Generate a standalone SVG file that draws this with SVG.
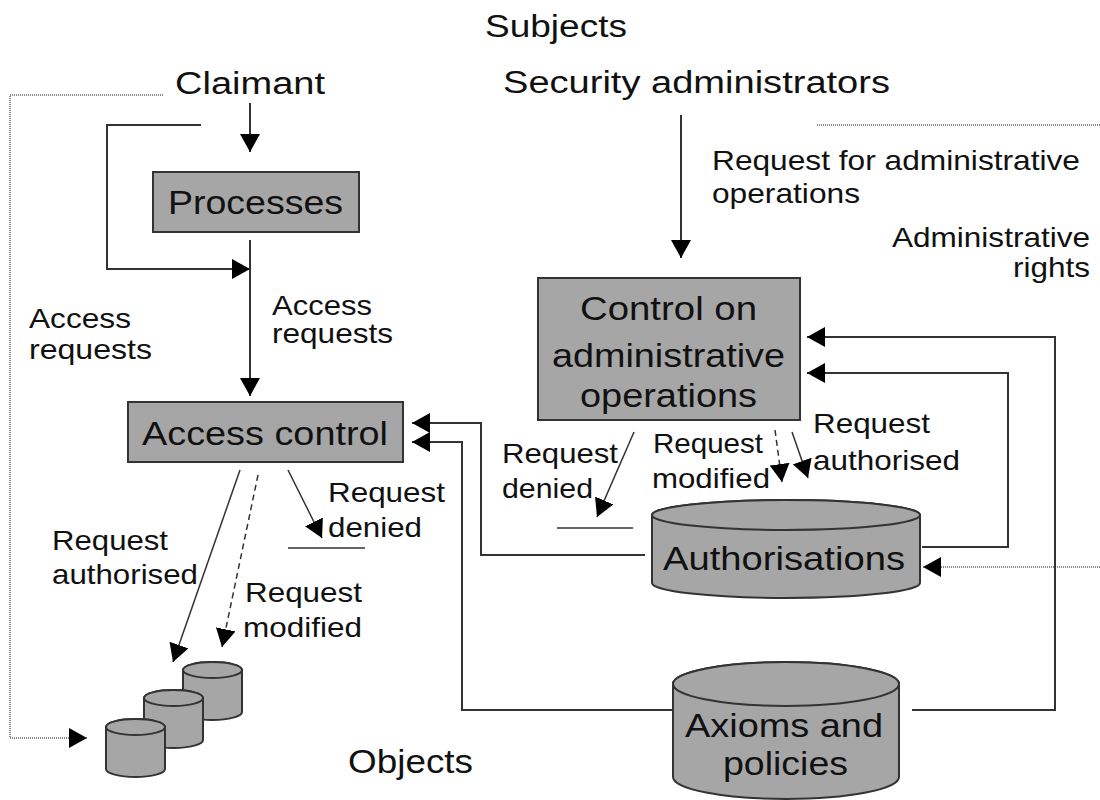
<svg xmlns="http://www.w3.org/2000/svg" width="1100" height="800" viewBox="0 0 1100 800">
  <style>
    text { font-family: "Liberation Sans", Arial, sans-serif; fill: #111; }
    .big { font-size: 34px; }
    .mid { font-size: 31px; }
    .lbl { font-size: 28px; }
    .box { fill: #a6a6a6; stroke: #333; stroke-width: 2; }
    .line { fill: none; stroke: #333; stroke-width: 2; }
    .thin { fill: none; stroke: #333; stroke-width: 1.5; }
    .dash { fill: none; stroke: #333; stroke-width: 1.5; stroke-dasharray: 6 4; }
    .dot { fill: none; stroke: #888; stroke-width: 2; stroke-dasharray: 1 1; }
  </style>
  <defs>
    <marker id="arrow" viewBox="0 0 18 20" refX="18" refY="10" markerWidth="18" markerHeight="20" markerUnits="userSpaceOnUse" orient="auto">
      <path d="M0,0 L18,10 L0,20 z" fill="#000"/>
    </marker>
  </defs>
  <rect width="1100" height="800" fill="#fff"/>

  <!-- headings -->
  <g id="subjects">
    <text class="mid" x="485" y="37" textLength="142" lengthAdjust="spacingAndGlyphs">Subjects</text>
  </g>
  <g id="claimant">
    <text class="mid" x="175" y="94" textLength="150" lengthAdjust="spacingAndGlyphs">Claimant</text>
  </g>
  <g id="security-administrators">
    <text class="mid" x="503" y="93" textLength="387" lengthAdjust="spacingAndGlyphs">Security administrators</text>
  </g>
  <g id="objects-label">
    <text class="big" x="348" y="773" textLength="125" lengthAdjust="spacingAndGlyphs">Objects</text>
  </g>

  <!-- connectors -->
  <g id="connectors">
    <!-- claimant to processes -->
    <line class="line" x1="250" y1="103" x2="250" y2="152" marker-end="url(#arrow)"/>
    <polyline class="line" points="201,125 107,125 107,269 250,269" marker-end="url(#arrow)"/>
    <line class="line" x1="250" y1="240" x2="250" y2="396" marker-end="url(#arrow)"/>
    <!-- claimant to objects (dotted) -->
    <polyline class="dot" points="163,95 10,95 10,738 87,738" marker-end="url(#arrow)"/>
    <!-- security administrators -->
    <line class="line" x1="681" y1="115" x2="681" y2="258" marker-end="url(#arrow)"/>
    <line class="dot" x1="817" y1="125" x2="1100" y2="125"/>
    <!-- administrative rights into authorisations -->
    <line class="dot" x1="1100" y1="567" x2="923" y2="567" marker-end="url(#arrow)"/>
    <!-- feedback into control on administrative operations -->
    <polyline class="line" points="912,710 1055,710 1055,337 807,337" marker-end="url(#arrow)"/>
    <polyline class="line" points="922,547 1008,547 1008,373 807,373" marker-end="url(#arrow)"/>
    <!-- feedback into access control -->
    <polyline class="line" points="645,555 481,555 481,423 412,423" marker-end="url(#arrow)"/>
    <polyline class="line" points="673,710 462,710 462,442 412,442" marker-end="url(#arrow)"/>
    <!-- access control outcomes -->
    <line class="thin" x1="240" y1="470" x2="173" y2="662" marker-end="url(#arrow)"/>
    <line class="dash" x1="258" y1="475" x2="222" y2="647" marker-end="url(#arrow)"/>
    <line class="thin" x1="288" y1="470" x2="322" y2="538" marker-end="url(#arrow)"/>
    <line class="thin" x1="288" y1="548" x2="365" y2="548"/>
    <!-- administrative control outcomes -->
    <line class="thin" x1="634" y1="432" x2="597" y2="517" marker-end="url(#arrow)"/>
    <line class="thin" x1="557" y1="528" x2="633" y2="528"/>
    <line class="dash" x1="775" y1="430" x2="782" y2="482" marker-end="url(#arrow)"/>
    <line class="thin" x1="792" y1="432" x2="808" y2="478" marker-end="url(#arrow)"/>
  </g>

  <!-- connector labels -->
  <g id="labels">
    <text class="lbl" x="712" y="170" textLength="368" lengthAdjust="spacingAndGlyphs">Request for administrative</text>
    <text class="lbl" x="712" y="203" textLength="148" lengthAdjust="spacingAndGlyphs">operations</text>
    <text class="lbl" x="892" y="247" textLength="198" lengthAdjust="spacingAndGlyphs">Administrative</text>
    <text class="lbl" x="1013" y="277" textLength="77" lengthAdjust="spacingAndGlyphs">rights</text>
    <text class="lbl" x="272" y="315" textLength="100" lengthAdjust="spacingAndGlyphs">Access</text>
    <text class="lbl" x="272" y="343" textLength="121" lengthAdjust="spacingAndGlyphs">requests</text>
    <text class="lbl" x="29" y="328" textLength="102" lengthAdjust="spacingAndGlyphs">Access</text>
    <text class="lbl" x="29" y="359" textLength="123" lengthAdjust="spacingAndGlyphs">requests</text>
    <text class="lbl" x="52" y="550" textLength="116" lengthAdjust="spacingAndGlyphs">Request</text>
    <text class="lbl" x="52" y="584" textLength="146" lengthAdjust="spacingAndGlyphs">authorised</text>
    <text class="lbl" x="245" y="602" textLength="117" lengthAdjust="spacingAndGlyphs">Request</text>
    <text class="lbl" x="243" y="637" textLength="119" lengthAdjust="spacingAndGlyphs">modified</text>
    <text class="lbl" x="328" y="502" textLength="117" lengthAdjust="spacingAndGlyphs">Request</text>
    <text class="lbl" x="328" y="537" textLength="94" lengthAdjust="spacingAndGlyphs">denied</text>
    <text class="lbl" x="502" y="463" textLength="116" lengthAdjust="spacingAndGlyphs">Request</text>
    <text class="lbl" x="502" y="498" textLength="91" lengthAdjust="spacingAndGlyphs">denied</text>
    <text class="lbl" x="653" y="453" textLength="110" lengthAdjust="spacingAndGlyphs">Request</text>
    <text class="lbl" x="652" y="488" textLength="118" lengthAdjust="spacingAndGlyphs">modified</text>
    <text class="lbl" x="813" y="433" textLength="117" lengthAdjust="spacingAndGlyphs">Request</text>
    <text class="lbl" x="813" y="470" textLength="147" lengthAdjust="spacingAndGlyphs">authorised</text>
  </g>

  <!-- process nodes -->
  <g id="processes">
    <rect class="box" x="153" y="172" width="206" height="60"/>
    <text class="big" x="168" y="214" textLength="175" lengthAdjust="spacingAndGlyphs">Processes</text>
  </g>
  <g id="access-control">
    <rect class="box" x="128" y="402" width="275" height="60"/>
    <text class="big" x="142" y="445" textLength="246" lengthAdjust="spacingAndGlyphs">Access control</text>
  </g>
  <g id="control-admin-ops">
    <rect class="box" x="538" y="278" width="262" height="142"/>
    <text class="big" x="580" y="320" textLength="177" lengthAdjust="spacingAndGlyphs">Control on</text>
    <text class="big" x="552" y="367" textLength="233" lengthAdjust="spacingAndGlyphs">administrative</text>
    <text class="big" x="580" y="407" textLength="177" lengthAdjust="spacingAndGlyphs">operations</text>
  </g>

  <!-- data stores -->
  <g id="authorisations">
    <path class="box" d="M652,515 L652,583 A134,15 0 0 0 920,583 L920,515 A134,15 0 0 0 652,515 z"/>
    <ellipse class="box" cx="786" cy="515" rx="134" ry="15"/>
    <text class="big" x="663" y="570" textLength="242" lengthAdjust="spacingAndGlyphs">Authorisations</text>
  </g>
  <g id="axioms-policies">
    <path class="box" d="M673,684 L673,777 A113,22 0 0 0 899,777 L899,684 A113,22 0 0 0 673,684 z"/>
    <ellipse class="box" cx="786" cy="684" rx="113" ry="22"/>
    <text class="big" x="685" y="737" textLength="198" lengthAdjust="spacingAndGlyphs">Axioms and</text>
    <text class="big" x="723" y="775" textLength="125" lengthAdjust="spacingAndGlyphs">policies</text>
  </g>
  <g id="objects">
    <path class="box" d="M183,670 L183,712 A29.5,8 0 0 0 242,712 L242,670 A29.5,8 0 0 0 183,670 z"/>
    <ellipse class="box" cx="212.5" cy="670" rx="29.5" ry="8"/>
    <path class="box" d="M144,698 L144,740 A29.5,8 0 0 0 203,740 L203,698 A29.5,8 0 0 0 144,698 z"/>
    <ellipse class="box" cx="173.5" cy="698" rx="29.5" ry="8"/>
    <path class="box" d="M106,727 L106,769 A29.5,8 0 0 0 165,769 L165,727 A29.5,8 0 0 0 106,727 z"/>
    <ellipse class="box" cx="135.5" cy="727" rx="29.5" ry="8"/>
  </g>
</svg>
